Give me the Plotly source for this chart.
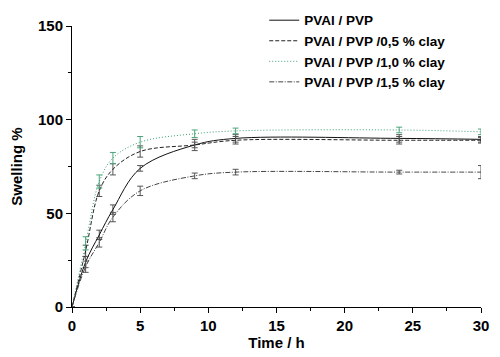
import plotly.graph_objects as go

time_h = [0, 1, 2, 3, 5, 9, 12, 24, 30]

pvp = [0, 24, 38.5, 52, 74, 86.5, 90, 90, 89.5]
pvp_err = [0, 3, 2.5, 2.5, 1.5, 1.5, 2, 2, 1.5]

clay05 = [0, 30, 62, 73.5, 83, 86.5, 89, 89, 89]
clay05_err = [0, 3, 3, 3, 3, 3, 2, 2, 1.5]

clay10 = [0, 34, 67, 79.5, 88, 92.5, 94, 94.5, 93.5]
clay10_err = [0, 3.5, 3.5, 3, 3, 2, 1.5, 1.5, 1.5]

clay15 = [0, 21.5, 34.5, 48, 62, 70, 72, 72, 72]
clay15_err = [0, 3, 2.5, 2.5, 2.5, 1.5, 1.5, 1, 3.5]

names = ["PVAl / PVP", "PVAl / PVP /0,5 % clay", "PVAl / PVP /1,0 % clay", "PVAl / PVP /1,5 % clay"]
series = [pvp, clay05, clay10, clay15]
errors = [pvp_err, clay05_err, clay10_err, clay15_err]
colors = ["#111111", "#222222", "#3f9f72", "#444444"]
err_colors = ["#555555", "#555555", "#4aa57a", "#555555"]
dashes = ["solid", "4px,2px", "1px,2px", "5px,1.5px,1px,1.5px"]

fig = go.Figure()
for n, ys, es, c, ec, d in zip(names, series, errors, colors, err_colors, dashes):
    fig.add_trace(go.Scatter(
        x=time_h, y=ys, name=n, mode="lines",
        line=dict(color=c, width=1, dash=d, shape="spline", smoothing=1.0),
        error_y=dict(type="data", array=es, visible=True, color=ec, thickness=1, width=3),
        cliponaxis=False,
    ))

font_family = "Liberation Sans, Arial, sans-serif"
# page body has an 8px default margin, so the figure is 8px smaller
fig.update_layout(
    width=492, height=349,
    margin=dict(l=64, r=19, t=18, b=50, autoexpand=False),
    paper_bgcolor="white", plot_bgcolor="white",
    font=dict(family=font_family, color="black"),
    showlegend=True,
    legend=dict(
        x=0.47, y=1.075, xanchor="left", yanchor="top",
        bgcolor="rgba(0,0,0,0)", tracegroupgap=0,
        font=dict(size=13.5, family=font_family, color="black", weight="bold"),
        itemwidth=30,
    ),
    xaxis=dict(
        range=[0, 30], tickvals=[0, 5, 10, 15, 20, 25, 30],
        showline=True, linecolor="black", linewidth=1,
        ticks="outside", ticklen=5, tickcolor="black",
        showgrid=False, zeroline=False, automargin=False,
        tickfont=dict(size=15, weight="bold"),
        minor=dict(ticks="outside", dtick=2.5, ticklen=3, tickcolor="black", showgrid=False),
        title=dict(text="Time / h", font=dict(size=15, weight="bold"), standoff=4),
    ),
    yaxis=dict(
        range=[0, 150], tickvals=[0, 50, 100, 150],
        showline=True, linecolor="black", linewidth=1,
        ticks="outside", ticklen=5, tickcolor="black",
        showgrid=False, zeroline=False, automargin=False,
        tickfont=dict(size=15, weight="bold"),
        minor=dict(ticks="outside", dtick=25, ticklen=3, tickcolor="black", showgrid=False),
        title=dict(text="Swelling %", font=dict(size=15, weight="bold"), standoff=14),
    ),
)

fig.write_html("out.html")
